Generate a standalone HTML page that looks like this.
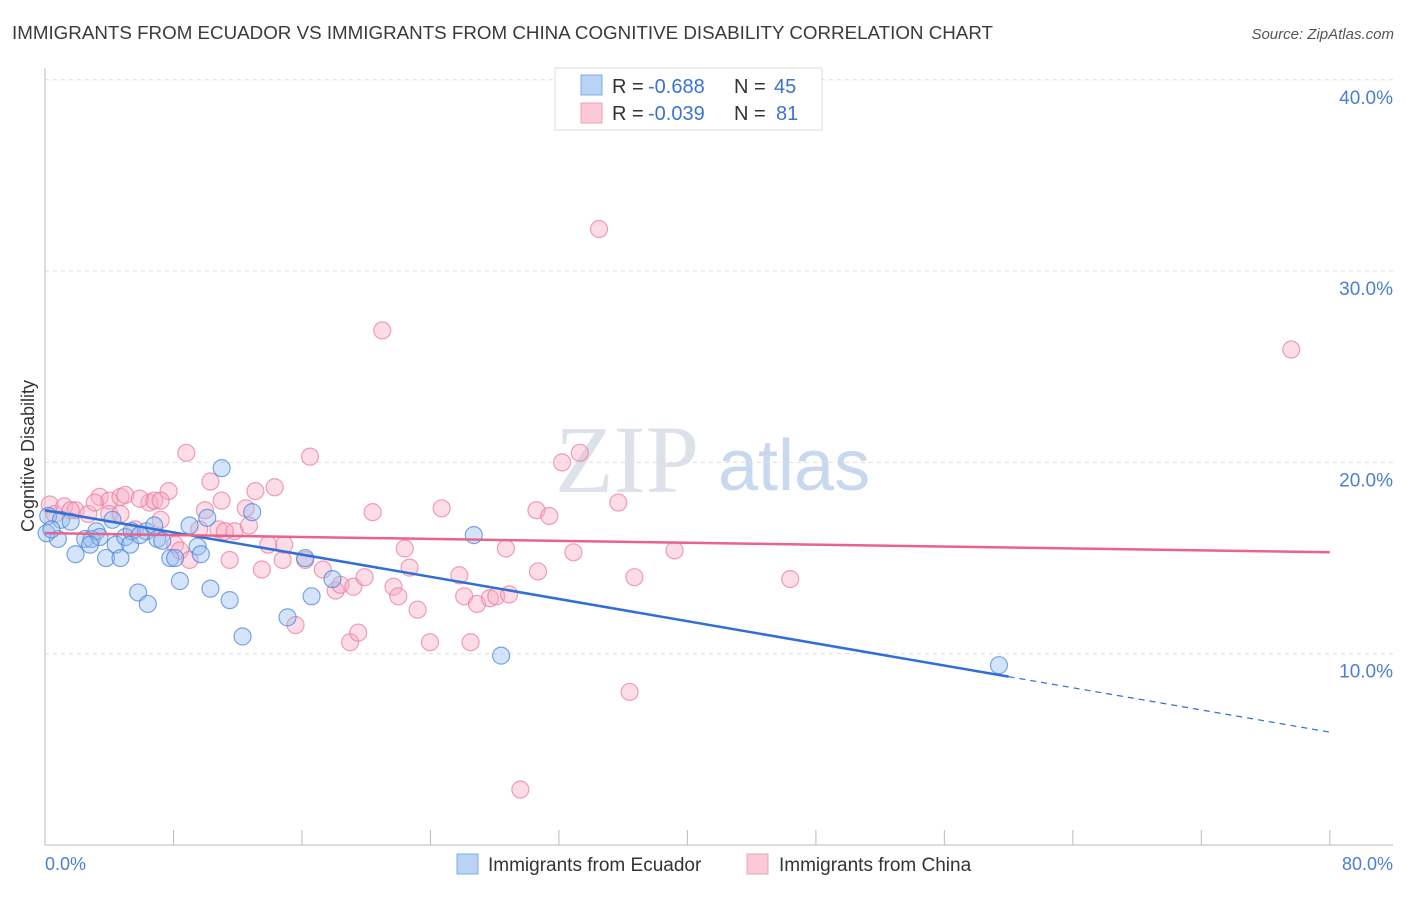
<!DOCTYPE html>
<html><head><meta charset="utf-8"><style>
body{margin:0;background:#fff;font-family:"Liberation Sans",sans-serif}
</style></head><body>
<svg width="1406" height="892" xmlns="http://www.w3.org/2000/svg" id="chart">
<text x="12" y="39" font-size="18" fill="#3a3a3a" textLength="981" lengthAdjust="spacingAndGlyphs">IMMIGRANTS FROM ECUADOR VS IMMIGRANTS FROM CHINA COGNITIVE DISABILITY CORRELATION CHART</text>
<text x="1394" y="39" font-size="15" fill="#555" font-style="italic" text-anchor="end">Source: ZipAtlas.com</text>
<text x="34" y="456" font-size="18" fill="#333" transform="rotate(-90 34 456)" text-anchor="middle">Cognitive Disability</text>
<text x="555" y="492" font-size="96" fill="#dde2ea" font-family="Liberation Serif,serif">ZIP</text>
<text x="718" y="490" font-size="72" fill="#c8d8ee">atlas</text>
<g id="grid"></g><g id="pts"></g><g id="lines"></g>
<g>
<rect x="555" y="68" width="267" height="62" fill="#fff" stroke="#ddd"/>
<rect x="581" y="75" width="21" height="20" fill="#b9d3f5" stroke="#7eaee8"/>
<rect x="581" y="103" width="21" height="20" fill="#fcc9d7" stroke="#f0a0b8"/>
<text x="612" y="93" font-size="20" fill="#333">R =</text>
<text x="648" y="93" font-size="20" fill="#3a73d4">-0.688</text>
<text x="734" y="93" font-size="20" fill="#333">N =</text>
<text x="774" y="93" font-size="20" fill="#3a73d4">45</text>
<text x="612" y="120" font-size="20" fill="#333">R =</text>
<text x="648" y="120" font-size="20" fill="#3a73d4">-0.039</text>
<text x="734" y="120" font-size="20" fill="#333">N =</text>
<text x="776" y="120" font-size="20" fill="#3a73d4">81</text>
</g>
<g>
<rect x="457" y="854" width="21" height="20" fill="#b9d3f5" stroke="#7eaee8"/>
<text x="488" y="871" font-size="19" fill="#333">Immigrants from Ecuador</text>
<rect x="747" y="854" width="21" height="20" fill="#fcc9d7" stroke="#f0a0b8"/>
<text x="779" y="871" font-size="19" fill="#333">Immigrants from China</text>
</g>
<text x="45" y="870" font-size="18" fill="#4a7fd6">0.0%</text>
<text x="1393" y="870" font-size="18" fill="#4a7fd6" text-anchor="end">80.0%</text>
</svg>
<script>
const ecuX=[0.2,0.8,1,1.6,1.9,2.5,2.9,3.2,3.4,3.8,4.2,4.4,4.7,5.0,5.4,5.8,6.3,6.4,6.8,7.0,7.3,7.8,8.1,8.4,9.0,9.5,9.7,10.1,10.3,11.0,11.5,12.3,12.9,15.1,16.2,16.6,17.9,26.7,28.4,59.4,0.1,0.4,2.8,5.3,5.9];
const ecuY=[17.2,16.0,17.0,16.9,15.2,16.0,16.0,16.4,16.1,15.0,17.0,15.7,15.0,16.1,16.4,13.2,16.4,12.6,16.7,16.0,15.9,15.0,15.0,13.8,16.7,15.6,15.2,17.1,13.4,19.7,12.8,10.9,17.4,11.9,15.0,13.0,13.9,16.2,9.9,9.4,16.3,16.5,15.7,15.7,16.2];
const chnX=[0.3,0.6,1.2,1.9,2.7,3.4,4.0,4.7,5.0,5.6,6.5,6.8,7.2,7.7,8.1,8.4,8.8,9.0,9.6,9.96,10.3,10.8,11.0,11.5,11.8,12.5,12.7,13.1,13.5,13.9,14.3,14.8,14.9,15.6,16.2,16.5,17.3,18.1,18.4,19.0,19.2,19.5,19.9,20.4,21.0,21.7,22.0,22.4,22.7,23.2,23.97,24.7,25.8,26.1,26.5,26.9,27.7,28.1,28.7,28.9,29.6,30.6,30.7,31.4,32.2,32.9,33.3,34.5,35.7,36.4,36.7,39.2,46.4,77.6,5.9,4.0,3.1,7.2,11.2,4.7,1.6];
const chnY=[17.8,17.3,17.7,17.5,17.3,18.2,18.0,18.2,18.3,16.5,17.9,18.0,17.0,18.5,15.7,15.4,20.5,14.9,16.5,17.5,19.0,16.5,18.0,14.9,16.4,17.6,16.7,18.5,14.4,15.7,18.7,14.9,15.7,11.5,14.9,20.3,14.4,13.3,13.6,10.6,13.5,11.1,14.0,17.4,26.9,13.5,13.0,15.5,14.5,12.3,10.6,17.6,14.1,13.0,10.6,12.6,12.9,13.0,15.5,13.1,2.9,17.5,14.3,17.2,20.0,15.3,20.5,32.2,17.9,8.0,14.0,15.4,13.9,25.9,18.1,17.3,17.9,18.0,16.4,17.3,17.5];
const trendX=[0,60,80];
const ecuTrend=[17.5,8.8,5.9];
const chnTrend=[16.3,15.8,15.3];
const yTicks=[10,20,30,40];
const xTicks=[0,8,16,24,32,40,48,56,64,72,80];
const NS='http://www.w3.org/2000/svg';
const xs=v=>45+v*16.06, ys=v=>845-v*19.13;
function mk(t,a,p){const e=document.createElementNS(NS,t);for(const k in a)e.setAttribute(k,a[k]);document.getElementById(p).appendChild(e);return e;}
let ax=mk('line',{x1:45,y1:68,x2:45,y2:845,stroke:'#bbb'},'grid');


let bx=mk('line',{x1:45,y1:845,x2:1393,y2:845,stroke:'#bbb'},'grid');


yTicks.forEach(t=>{
 const g=mk('line',{x1:45,y1:ys(t),x2:1393,y2:ys(t),stroke:'#ddd','stroke-dasharray':'4,4'},'grid');
 
 
 const l=mk('text',{x:1393,y:ys(t)+24,'font-size':19,fill:'#4a7fd6','text-anchor':'end'},'grid');
 l.textContent=t.toFixed(1)+'%';
 
 
});
xTicks.forEach(t=>{
 const m=mk('line',{x1:xs(t),y1:830,x2:xs(t),y2:845,stroke:'#bbb'},'grid');
 
 
});
chnX.forEach((x,i)=>{
 const c=mk('circle',{cx:xs(x),cy:ys(chnY[i]),r:8.5,fill:'rgba(248,170,195,0.4)',stroke:'rgba(235,120,155,0.7)','stroke-width':1.2},'pts');
 
 
});
ecuX.forEach((x,i)=>{
 const c=mk('circle',{cx:xs(x),cy:ys(ecuY[i]),r:8.5,fill:'rgba(150,190,240,0.4)',stroke:'rgba(70,130,220,0.7)','stroke-width':1.2},'pts');
 
 
});
let l1=mk('line',{x1:xs(trendX[0]),y1:ys(ecuTrend[0]),x2:xs(trendX[1]),y2:ys(ecuTrend[1]),stroke:'#2f6fd6','stroke-width':2.5},'lines');


let l2=mk('line',{x1:xs(trendX[1]),y1:ys(ecuTrend[1]),x2:xs(trendX[2]),y2:ys(ecuTrend[2]),stroke:'#2f6fd6','stroke-width':1.2,'stroke-dasharray':'6,5'},'lines');


let l3=mk('line',{x1:xs(trendX[0]),y1:ys(chnTrend[0]),x2:xs(trendX[2]),y2:ys(chnTrend[2]),stroke:'#e8638d','stroke-width':2.5},'lines');


</script>
</body></html>
